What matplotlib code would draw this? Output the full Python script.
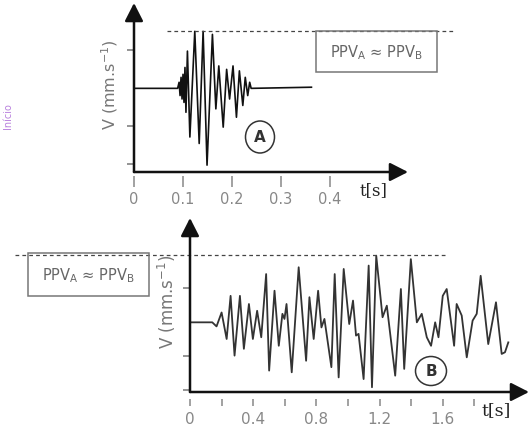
import numpy as np
import matplotlib.pyplot as plt
from matplotlib.patches import Rectangle, Ellipse

plt.rcParams['mathtext.default'] = 'regular'

W, H = 529, 427

# signal A (short blast record), time in s, velocity in tick units
t_a = [0, 0.089, 0.092, 0.094, 0.096, 0.098, 0.100, 0.102, 0.104, 0.106,
       0.109, 0.114, 0.124, 0.133, 0.141, 0.149, 0.160, 0.167, 0.173, 0.182,
       0.189, 0.195, 0.202, 0.209, 0.215, 0.222, 0.227, 0.232, 0.236, 0.239,
       0.362]
v_a = [0, 0, 0.16, -0.19, 0.29, -0.28, 0.37, -0.37, 0.55, -0.63,
       0.98, -1.28, 1.50, -1.45, 1.50, -2.02, 1.42, -0.54, 0.59, -1.02,
       0.50, -0.28, 0.59, -0.76, 0.46, -0.45, 0.29, -0.19, 0.16, 0,
       0.03]
ppv_a = 1.5

# signal B (long record)
t_b = [0, 0.141, 0.168, 0.200, 0.232, 0.257, 0.282, 0.316, 0.341, 0.373,
       0.398, 0.425, 0.451, 0.482, 0.501, 0.535, 0.562, 0.585, 0.598, 0.611,
       0.644, 0.688, 0.735, 0.756, 0.783, 0.811, 0.832, 0.851, 0.895, 0.916,
       0.941, 0.973, 1.008, 1.032, 1.051, 1.067, 1.099, 1.131, 1.152, 1.179,
       1.219, 1.246, 1.299, 1.335, 1.356, 1.398, 1.436, 1.467, 1.499, 1.526,
       1.552, 1.573, 1.600, 1.625, 1.672, 1.688, 1.720, 1.752, 1.789, 1.815,
       1.840, 1.888, 1.937, 1.973, 1.994, 2.015]
v_b = [0, 0, -0.12, 0.29, -0.49, 0.78, -0.98, 0.78, -0.78, 0.54,
       -0.49, 0.34, -0.44, 1.42, -1.42, 0.93, -0.69, 0.25, 0.10, 0.54,
       -1.47, 1.62, -1.13, 0.74, -0.49, 0.93, -0.15, 0.10, -1.32, 1.42,
       -1.62, 1.57, -0.05, 0.64, -0.39, -0.34, -1.67, 1.67, -1.91, 1.96,
       0.15, 0.49, -1.57, 0.98, -1.37, 1.86, 0, 0.25, -0.44, -0.69,
       0, -0.44, 0.78, 0.98, -0.69, 0.54, 0.20, -1.03, 0.05, 0.25,
       1.37, -0.64, 0.59, -0.93, -0.88, -0.59]
ppv_b = 1.98

xticks_a = [0, 0.1, 0.2, 0.3, 0.4]
xlabels_a = ['0', '0.1', '0.2', '0.3', '0.4']
xticks_b = [0, 0.2, 0.4, 0.6, 0.8, 1.0, 1.2, 1.4, 1.6, 1.8]
xlabels_b = ['0', '', '0.4', '', '0.8', '', '1.2', '', '1.6', '']
yticks = [1, -1, -2]


def fx(x):
    return x / W


def fy(y):
    return 1 - y / H


def axes_px(fig, left, top, right, bottom):
    return fig.add_axes([fx(left), fy(bottom), (right - left) / W, (bottom - top) / H])


def arrows(ax):
    style = '-|>,head_length=0.55,head_width=0.28'
    for end in [(1, 0), (0, 1)]:
        ax.annotate('', xy=end, xytext=(0, 0), xycoords='axes fraction',
                    arrowprops=dict(arrowstyle=style, lw=1.8, color='#111',
                                    mutation_scale=20, shrinkA=0, shrinkB=0),
                    annotation_clip=False)


def ppv_box(fig, left, top, right, bottom):
    fig.add_artist(Rectangle((fx(left), fy(bottom)), (right - left) / W, (bottom - top) / H,
                             transform=fig.transFigure, fill=False, ec='#777', lw=1.1))
    fig.text(fx((left + right) / 2), fy((top + bottom) / 2), 'PPV$_A$ \u2248 PPV$_B$',
             ha='center', va='center', fontsize=10.5, color='#666')


def circle_label(fig, cx, cy, w, h, s):
    fig.add_artist(Ellipse((fx(cx), fy(cy)), w / W, h / H, transform=fig.transFigure,
                           fill=False, ec='#333', lw=1.1))
    fig.text(fx(cx), fy(cy), s, ha='center', va='center', fontsize=11,
             fontweight='bold', color='#333')


fig = plt.figure(figsize=(W / 100, H / 100), dpi=100)

# top panel (A)
ax1 = axes_px(fig, 134, 4, 408, 173)
ax1.plot(t_a, v_a, color='#111', lw=1.2)
ax1.plot([0.067, 0.655], [ppv_a, ppv_a], color='#444', lw=0.9,
         ls=(0, (3, 2.5)), clip_on=False)
ax1.set_xlim(0, 0.559)
ax1.set_ylim(-2.20, 2.245)

# bottom panel (B)
ax2 = axes_px(fig, 190, 219, 529, 393)
ax2.plot(t_b, v_b, color='#333', lw=1.3)
ax2.plot([-1.108, 1.627], [ppv_b, ppv_b], color='#444', lw=0.9,
         ls=(0, (3, 2.5)), clip_on=False)
ax2.set_xlim(0, 2.146)
ax2.set_ylim(-2.05, 3.07)

for ax, xt, xl, gap, ln, pad, fs in [(ax1, xticks_a, xlabels_a, 3, 8, 3, 10.5),
                                     (ax2, xticks_b, xlabels_b, 5, 5, 3.5, 11)]:
    for sp in ax.spines.values():
        sp.set_visible(False)
    ax.spines['bottom'].set_position(('outward', gap))
    ax.set_xticks(xt)
    ax.set_xticklabels(xl)
    ax.set_yticks(yticks)
    ax.set_yticklabels([])
    ax.tick_params(axis='x', direction='out', length=ln, width=1.1, color='#888',
                   labelsize=fs, labelcolor='#888', pad=pad)
    ax.tick_params(axis='y', direction='out', length=5, width=1.1, color='#777')
    ax.patch.set_alpha(0)
    arrows(ax)

# axis labels
fig.text(fx(110), fy(85), 'V (mm.s$^{-1}$)', rotation=90, ha='center', va='center',
         fontsize=11.5, color='#777')
fig.text(fx(167), fy(302), 'V (mm.s$^{-1}$)', rotation=90, ha='center', va='center',
         fontsize=12, color='#777')
fig.text(fx(373), fy(191), 't[s]', ha='center', va='center', fontsize=12,
         family='DejaVu Serif', color='#222')
fig.text(fx(496), fy(411), 't[s]', ha='center', va='center', fontsize=12.5,
         family='DejaVu Serif', color='#222')

# PPV boxes and circles
ppv_box(fig, 316, 32, 437, 73)
ppv_box(fig, 28, 254, 149, 297)
circle_label(fig, 260, 138, 29, 32, 'A')
circle_label(fig, 431, 372, 31, 29, 'B')

fig.text(fx(8), fy(116), 'Início', rotation=90, ha='center', va='center',
         fontsize=7, color='#b880dd')

fig.savefig('out.png', dpi=100)
